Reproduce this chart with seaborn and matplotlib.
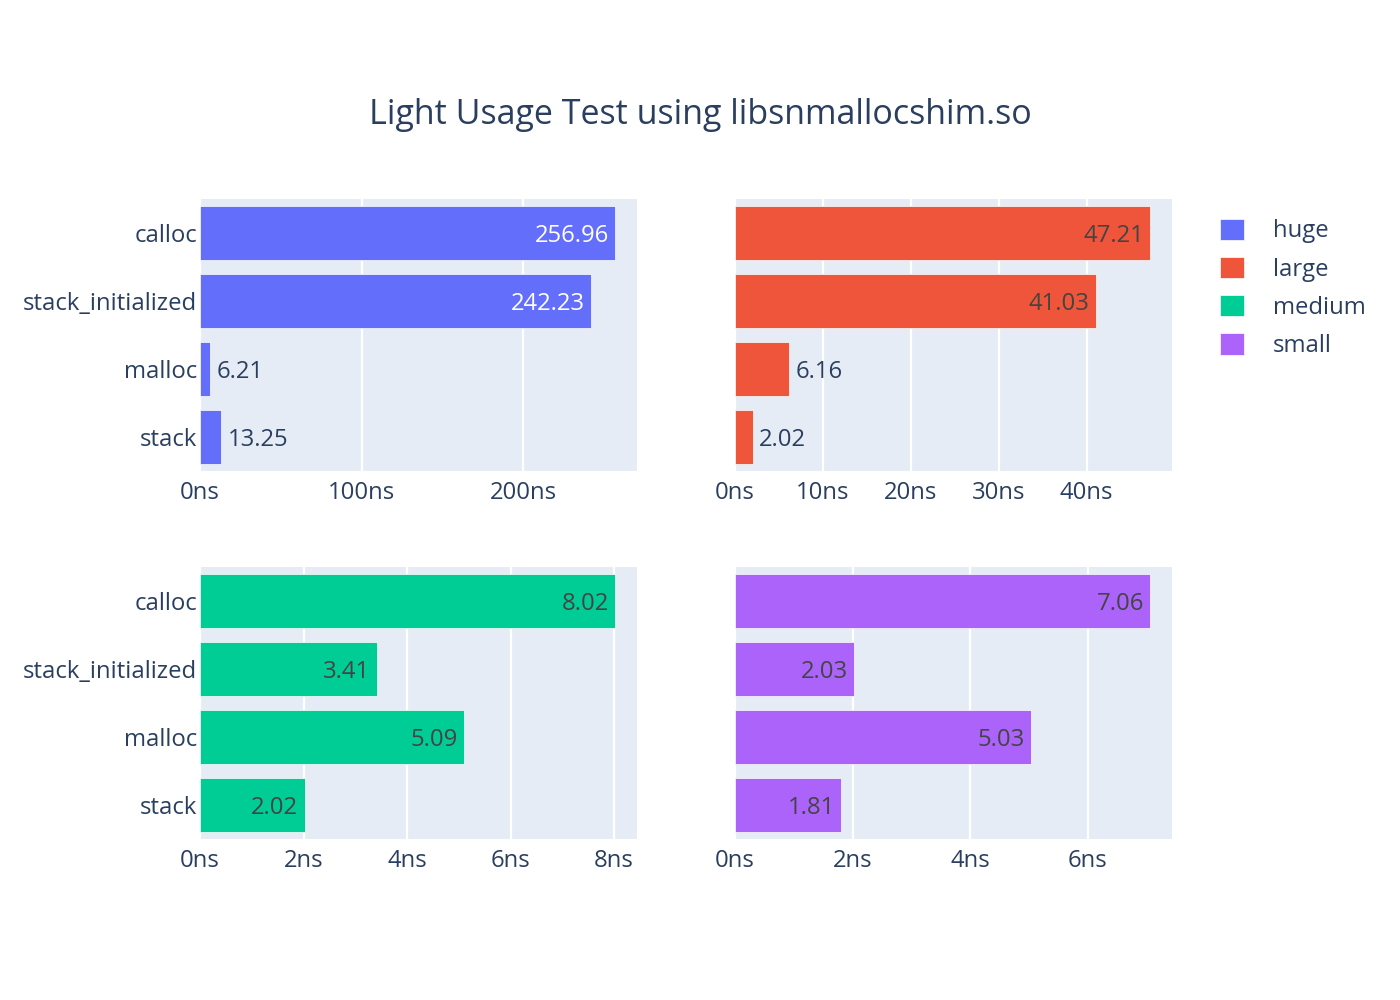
#!/usr/bin/env python3
"""Light usage benchmark: 2x2 horizontal bar panels, one per allocation size."""

import matplotlib
matplotlib.use("Agg")

import matplotlib.pyplot as plt
import pandas as pd
import seaborn as sns
from matplotlib.patches import Patch
from matplotlib.ticker import FuncFormatter, MultipleLocator

TITLE = "Light Usage Test using libsnmallocshim.so"
CATEGORIES = ["calloc", "stack_initialized", "malloc", "stack"]
SIZES = ["huge", "large", "medium", "small"]

HUGE = [256.96, 242.23, 6.21, 13.25]
LARGE = [47.21, 41.03, 6.16, 2.02]
MEDIUM = [8.02, 3.41, 5.09, 2.02]
SMALL = [7.06, 2.03, 5.03, 1.81]

COLORS = {"huge": "#636EFA", "large": "#EF553B", "medium": "#00CC96", "small": "#AB63FA"}
INSIDE_TEXT = {"huge": "white", "large": "#444444", "medium": "#444444", "small": "#444444"}
TICK_STEP = {"huge": 100, "large": 10, "medium": 2, "small": 2}
TEXT_COLOR = "#2A3F5F"

# axes boxes in figure fractions (left, bottom, width, height)
BOXES = {
    "huge": (0.1429, 0.529, 0.3121, 0.272),
    "large": (0.525, 0.529, 0.3121, 0.272),
    "medium": (0.1429, 0.161, 0.3121, 0.272),
    "small": (0.525, 0.161, 0.3121, 0.272),
}


def main() -> None:
    sns.set_theme(style="darkgrid")
    plt.rcParams["font.family"] = ["Open Sans", "DejaVu Sans"]
    plt.rcParams["axes.facecolor"] = "#E5ECF6"
    plt.rcParams["grid.color"] = "white"
    plt.rcParams["grid.linewidth"] = 1.6

    values = {"huge": HUGE, "large": LARGE, "medium": MEDIUM, "small": SMALL}
    fig = plt.figure(figsize=(14, 10), dpi=100)
    fig.patch.set_facecolor("white")

    for size in SIZES:
        df = pd.DataFrame({"op": CATEGORIES, "ns": values[size]})
        ax = fig.add_axes(BOXES[size])
        sns.barplot(data=df, x="ns", y="op", orient="h", color=COLORS[size],
                    saturation=1, width=0.8, edgecolor="white", linewidth=0.5, ax=ax)
        xmax = df["ns"].max() * 1.0526
        ax.set_xlim(0, xmax)
        ax.set_ylim(3.5, -0.5)
        ax.grid(axis="y", visible=False)
        ax.grid(axis="x", visible=True)
        ax.xaxis.set_major_locator(MultipleLocator(TICK_STEP[size]))
        ax.xaxis.set_major_formatter(FuncFormatter(lambda v, _: f"{v:g}ns"))
        ax.set_xlabel("")
        ax.set_ylabel("")
        for spine in ax.spines.values():
            spine.set_visible(False)
        ax.tick_params(axis="x", length=0, pad=7, labelsize=17.2, labelcolor=TEXT_COLOR)
        ax.tick_params(axis="y", length=0, pad=2, labelsize=17.2, labelcolor=TEXT_COLOR)
        if size in ("large", "small"):
            ax.set_yticklabels([])

        for bar, val in zip(ax.patches, df["ns"]):
            y = bar.get_y() + bar.get_height() / 2
            if val / xmax > 0.15:
                ax.annotate(f"{val:.2f}", (val, y), xytext=(-4.5, -2.2), textcoords="offset points",
                            ha="right", va="center", fontsize=17.2, color=INSIDE_TEXT[size])
            else:
                ax.annotate(f"{val:.2f}", (val, y), xytext=(4.5, -2.2), textcoords="offset points",
                            ha="left", va="center", fontsize=17.2, color=TEXT_COLOR)

    fig.text(0.5, 0.885, TITLE, ha="center", va="center", fontsize=24.5, color=TEXT_COLOR)

    handles = [Patch(facecolor=COLORS[s], edgecolor="white", linewidth=0.5) for s in SIZES]
    leg = fig.legend(handles, SIZES, loc="upper left", bbox_to_anchor=(0.8564, 0.803),
                     frameon=False, fontsize=17.2, handlelength=1.0, handleheight=1.0,
                     handletextpad=1.2, labelspacing=0.56)
    for t in leg.get_texts():
        t.set_color(TEXT_COLOR)

    fig.savefig("out.png", dpi=100, facecolor="white")


if __name__ == "__main__":
    main()
